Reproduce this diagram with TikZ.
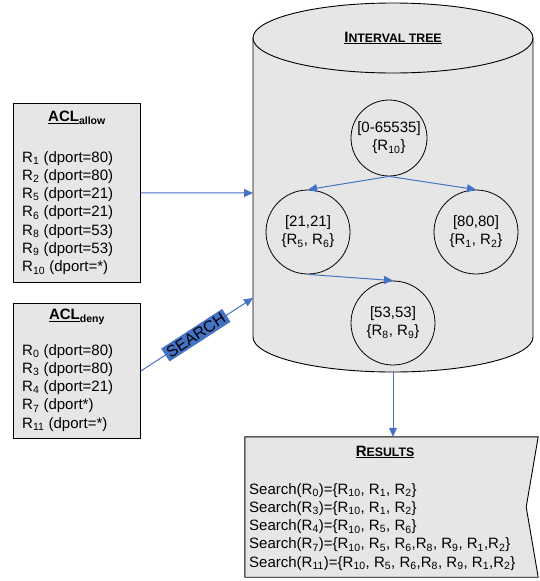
\documentclass[tikz,border=0pt]{standalone}
\usepackage{fontspec}
\setmainfont{Liberation Sans}
\usetikzlibrary{arrows.meta,calc}
\definecolor{panel}{HTML}{E6E6E6}
\definecolor{link}{HTML}{4472C4}
% rule name with subscript index
\newcommand{\rs}[1]{R\textsubscript{#1}}
% fake small capitals for headings
\newcommand{\smc}[1]{{\fontsize{12.3}{14}\selectfont #1}}

\begin{document}
\begin{tikzpicture}[x=1pt,y=-1pt,
  panelbox/.style={draw=black, line width=0.9pt, fill=panel},
  treenode/.style={draw=black, line width=0.8pt, circle, inner sep=0pt, align=center,
    font=\fontsize{15}{18}\selectfont},
  flow/.style={draw=link, line width=1pt, -{Triangle[length=9pt,width=8pt]}},
  listtext/.style={align=left, anchor=north west, inner sep=0pt,
    font=\fontsize{15}{18.3}\selectfont},
  heading/.style={font=\bfseries\fontsize{15}{18}\selectfont, inner sep=0pt}]

\useasboundingbox (0,0) rectangle (540,581);

% ---- ACL allow ----
\node[panelbox, minimum width=127pt, minimum height=179pt, anchor=north west, inner sep=0pt] (allow) at (13,103) {};
\node[heading] (allowT) at (77,118) {\underline{ACL}\textsubscript{allow}};
\node[listtext] (allowL) at (22,151) {\rs{1} (dport=80)\\\rs{2} (dport=80)\\\rs{5} (dport=21)\\\rs{6} (dport=21)\\\rs{8} (dport=53)\\\rs{9} (dport=53)\\\rs{10} (dport=*)};

% ---- ACL deny ----
\node[panelbox, minimum width=127pt, minimum height=135pt, anchor=north west, inner sep=0pt] (deny) at (13,303) {};
\node[heading] (denyT) at (77,317) {\underline{ACL}\textsubscript{deny}};
\node[listtext] (denyL) at (22,344) {\rs{0} (dport=80)\\\rs{3} (dport=80)\\\rs{4} (dport=21)\\\rs{7} (dport*)\\\rs{11} (dport=*)};

% ---- interval tree container ----
\path[panelbox] (253,38) -- (253,337) arc[start angle=180, end angle=0, x radius=140, y radius=35] -- (533,38) -- cycle;
\path[panelbox] (393,38) ellipse[x radius=140, y radius=35];
\node[heading] (treeT) at (393,38) {\underline{I\smc{NTERVAL TREE}}};
\coordinate (cylA) at (253,193);
\coordinate (cylB) at (253,298);
\coordinate (cylBot) at (393,372);

\node[treenode, minimum size=76pt] (root) at (389,138) {[0-65535]\\\{\rs{10}\}};
\node[treenode, minimum size=84pt] (n21) at (308,232) {[21,21]\\\{\rs{5}, \rs{6}\}};
\node[treenode, minimum size=84pt] (n80) at (476,232) {[80,80]\\\{\rs{1}, \rs{2}\}};
\node[treenode, minimum size=84pt] (n53) at (393,323) {[53,53]\\\{\rs{8}, \rs{9}\}};

\draw[flow] (root.south) -- (n21.north);
\draw[flow] (root.south) -- (n80.north);
\draw[flow] (n21.south) -- (n53.north);

% ---- results ----
\node[minimum width=293pt, minimum height=140pt, inner sep=0pt] (results) at (391.5,507) {};
\path[panelbox] (results.north west) -- (results.north east) -- ($(results.east)+(-12,0)$)
  -- (results.south east) -- (results.south west) -- cycle;
\node[heading] (resT) at (385,452) {\underline{R\smc{ESULTS}}};
\node[listtext] (resL) at (249,483) {Search(\rs{0})=\{\rs{10}, \rs{1}, \rs{2}\}\\
Search(\rs{3})=\{\rs{10}, \rs{1}, \rs{2}\}\\
Search(\rs{4})=\{\rs{10}, \rs{5}, \rs{6}\}\\
Search(\rs{7})=\{\rs{10}, \rs{5}, \rs{6},\rs{8}, \rs{9}, \rs{1},\rs{2}\}\\
Search(\rs{11})=\{\rs{10}, \rs{5}, \rs{6},\rs{8}, \rs{9}, \rs{1},\rs{2}\}};

% ---- connectors ----
\draw[flow] (allow.east) -- (cylA);
\draw[flow] (deny.east) -- node[sloped, pos=0.49, fill=link, inner xsep=3pt, inner ysep=2pt,
  text=black, font=\fontsize{16}{16}\selectfont] (searchL) {SEARCH} (cylB);
\draw[flow] (cylBot) -- (cylBot |- results.north);
\end{tikzpicture}
\end{document}
